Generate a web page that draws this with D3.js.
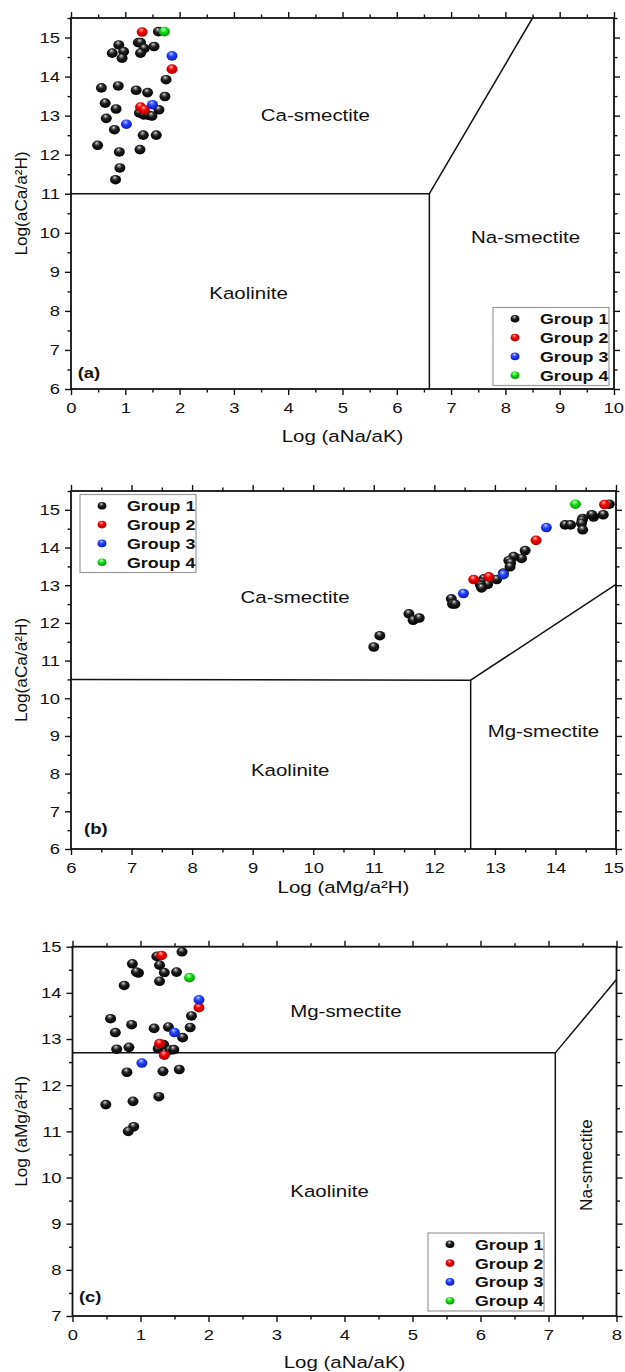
<!DOCTYPE html>
<html>
<head>
<meta charset="utf-8">
<script src="https://cdn.jsdelivr.net/npm/d3@7"></script>
<style>
  html, body { margin: 0; padding: 0; background: #fff; }
  svg { display: block; }
  text { font-family: "Liberation Sans", Arial, sans-serif; fill: #111; }
</style>
</head>
<body>
<svg id="chart" width="625" height="1372"></svg>
<script>
// ---- Sample data: one entry per water sample ----
const sampleGroup = [
  1,1,1,1,1,1,1,1,1,1,1,1,1,1,1,1,1,1,1,1,1,1,1,1,1,1,1,1,1,1,1,1,
  2,2,2,2,
  3,3,3,
  4
];
const logNaK = [
  1.61,0.88,1.24,1.28,1.53,1.35,0.76,0.97,0.94,1.28,1.75,0.56,0.87,1.20,1.41,1.73,
  0.63,0.83,1.62,1.26,1.34,1.43,1.49,0.65,0.80,1.33,1.57,0.49,0.89,1.27,0.90,0.82,
  1.31,1.86,1.28,1.35,
  1.86,1.50,1.02,
  1.72
];
const logCa = [
  15.15,14.81,14.87,14.87,14.77,14.72,14.60,14.64,14.47,14.60,13.92,13.71,13.76,13.65,13.59,13.49,
  13.32,13.17,13.15,13.07,13.02,13.01,12.99,12.93,12.64,12.50,12.50,12.24,12.07,12.13,11.66,11.36,
  15.14,14.19,13.22,13.15,
  14.53,13.28,12.78,
  15.15
];
const logMg = [
  14.89,14.63,14.79,14.60,14.45,14.44,14.16,14.43,14.45,14.25,13.50,13.44,13.31,13.23,13.26,13.25,
  13.14,12.82,13.03,12.79,12.88,12.76,12.77,12.78,12.28,12.30,12.34,11.58,11.65,11.75,11.10,11.00,
  14.81,13.68,12.90,12.65,
  13.85,13.14,12.48,
  14.33
];
const groupNames = ["Group 1", "Group 2", "Group 3", "Group 4"];

// ---- Tick values ----
const ticksNaK10 = [0,1,2,3,4,5,6,7,8,9,10];
const ticksNaK8  = [0,1,2,3,4,5,6,7,8];
const ticksMg    = [6,7,8,9,10,11,12,13,14,15];
const ticksCa    = [6,7,8,9,10,11,12,13,14,15];
const ticksMgY   = [7,8,9,10,11,12,13,14,15];

// ---- Stability field boundaries (data coordinates) ----
const boundsA = [
  [[0,11],[6.6,11],[6.6,6]],
  [[6.6,11],[8.5,15.5]]
];
const boundsB = [
  [[6,10.5],[12.6,10.48],[12.6,6]],
  [[12.6,10.48],[15,13.02]]
];
const boundsC = [
  [[0,12.7],[7.1,12.7],[7.1,7]],
  [[7.1,12.7],[8,14.29]]
];

// ---- Field names ----
const fieldsA = [
  {text:"Ca-smectite", x:4.5,  y:13.02, rot:false},
  {text:"Na-smectite", x:8.37, y:9.88,  rot:false},
  {text:"Kaolinite",   x:3.27, y:8.45,  rot:false}
];
const fieldsB = [
  {text:"Ca-smectite", x:9.70,  y:12.69, rot:false},
  {text:"Mg-smectite", x:13.80, y:9.13,  rot:false},
  {text:"Kaolinite",   x:9.62,  y:8.10,  rot:false}
];
const fieldsC = [
  {text:"Mg-smectite", x:4.02, y:13.61, rot:false},
  {text:"Kaolinite",   x:3.78, y:9.71,  rot:false},
  {text:"Na-smectite", x:7.55, y:10.27, rot:true}
];

// the figure's lettering is drawn slightly wide
const SX = 1.19;
const PAGE_W = 625;

const svg = d3.select("#chart");
svg.append("rect").attr("width",625).attr("height",1372).attr("fill","#fff");

// Glossy sphere fills
const defs = svg.append("defs");
const ballColours = [
  ["#ffffff","#8a8a8a","#1c1c1c","#000000"],
  ["#ffffff","#ff7070","#f00000","#a80000"],
  ["#ffffff","#8090ff","#2040ff","#0a1aa8"],
  ["#ffffff","#90ff90","#10e010","#089008"]
];
ballColours.forEach((c, i) => {
  const g = defs.append("radialGradient")
    .attr("id", "ball" + (i + 1))
    .attr("cx", "45%").attr("cy", "40%").attr("r", "62%")
    .attr("fx", "42%").attr("fy", "25%");
  g.append("stop").attr("offset", "0%").attr("stop-color", c[0]);
  g.append("stop").attr("offset", "14%").attr("stop-color", c[1]);
  g.append("stop").attr("offset", "45%").attr("stop-color", c[2]);
  g.append("stop").attr("offset", "100%").attr("stop-color", c[3]);
});

const samples = sampleGroup.map((g, i) => ({
  group: g, naK: logNaK[i], ca: logCa[i], mg: logMg[i]
})).sort((a, b) => a.group - b.group);

function halfSteps(ticks) {
  const out = [];
  for (let i = 0; i < ticks.length - 1; i++) out.push((ticks[i] + ticks[i + 1]) / 2);
  return out;
}

// widened text anchored at (x, y)
function wideText(parent, x, y, str, size, opts = {}) {
  const t = parent.append("g")
    .attr("transform", `translate(${x},${y}) scale(${opts.rot ? 1 : SX},1)` + (opts.rot ? " rotate(-90)" : ""))
    .append("text")
    .attr("text-anchor", opts.anchor || "middle")
    .attr("dominant-baseline", "central")
    .style("font-size", size + "px")
    .text(str);
  if (opts.bold) t.style("font-weight", "bold");
  return t;
}

function drawPanel(p) {
  const x = d3.scaleLinear().domain(p.xDomain).range([p.left, p.right]);
  const y = d3.scaleLinear().domain(p.yDomain).range([p.bottom, p.top]);
  const g = svg.append("g");

  const minorX = halfSteps(p.xTicks);
  const minorY = halfSteps(p.yTicks).concat(p.yExtraMinor || []);

  const styleAxis = sel => {
    sel.select(".domain").remove();
    sel.selectAll("line").attr("stroke", "#111").attr("stroke-width", 1.4);
    sel.selectAll("text").style("font-size", "15.5px").attr("fill", "#111")
      .attr("transform", `scale(${SX},1)`);
  };

  // bottom
  const bottomAxis = g.append("g").attr("transform", `translate(0,${p.bottom})`)
    .call(d3.axisBottom(x).tickValues(p.xTicks).tickSize(6).tickPadding(7).tickFormat(d3.format("d")))
    .call(styleAxis);
  // keep the last label inside the page
  bottomAxis.selectAll(".tick").each(function(d) {
    const txt = d3.select(this).select("text");
    const half = this.querySelector("text").getBBox().width * SX / 2;
    const overflow = x(d) + half - (PAGE_W - 1.5);
    if (overflow > 0) txt.attr("x", -overflow / SX);
  });
  g.append("g").attr("transform", `translate(0,${p.bottom})`)
    .call(d3.axisBottom(x).tickValues(minorX).tickSize(3.5).tickFormat(""))
    .call(styleAxis);
  // top
  g.append("g").attr("transform", `translate(0,${p.top})`)
    .call(d3.axisTop(x).tickValues(p.xTicks).tickSize(6).tickFormat(""))
    .call(styleAxis);
  g.append("g").attr("transform", `translate(0,${p.top})`)
    .call(d3.axisTop(x).tickValues(minorX).tickSize(3.5).tickFormat(""))
    .call(styleAxis);
  // left
  g.append("g").attr("transform", `translate(${p.left},0)`)
    .call(d3.axisLeft(y).tickValues(p.yTicks).tickSize(6).tickPadding(3.3).tickFormat(d3.format("d")))
    .call(styleAxis);
  g.append("g").attr("transform", `translate(${p.left},0)`)
    .call(d3.axisLeft(y).tickValues(minorY).tickSize(3.5).tickFormat(""))
    .call(styleAxis);
  // right
  g.append("g").attr("transform", `translate(${p.right},0)`)
    .call(d3.axisRight(y).tickValues(p.yTicks).tickSize(6).tickFormat(""))
    .call(styleAxis);
  g.append("g").attr("transform", `translate(${p.right},0)`)
    .call(d3.axisRight(y).tickValues(minorY).tickSize(3.5).tickFormat(""))
    .call(styleAxis);

  // frame
  g.append("rect")
    .attr("x", p.left).attr("y", p.top)
    .attr("width", p.right - p.left).attr("height", p.bottom - p.top)
    .attr("fill", "none").attr("stroke", "#111").attr("stroke-width", 1.8);

  // field boundaries
  const line = d3.line().x(d => x(d[0])).y(d => y(d[1]));
  p.bounds.forEach(b => {
    g.append("path").attr("d", line(b))
      .attr("fill", "none").attr("stroke", "#111").attr("stroke-width", 1.5);
  });

  // field names
  p.fields.forEach(f => wideText(g, x(f.x), y(f.y), f.text, 17.2, {rot: f.rot}));

  // panel tag
  wideText(g, x(p.tag.x), y(p.tag.y), p.tag.text, 15.5, {bold: true});

  // axis titles
  wideText(g, (p.left + p.right) / 2, p.bottom + p.xTitleGap, p.xTitle, 17.2);
  wideText(g, 21, (p.top + p.bottom) / 2, p.yTitle, 17.2, {rot: true});

  // samples
  g.append("g").selectAll("ellipse").data(samples).join("ellipse")
    .attr("cx", d => x(d[p.xKey])).attr("cy", d => y(d[p.yKey]))
    .attr("rx", 5.5).attr("ry", 4.8)
    .attr("fill", d => `url(#ball${d.group})`);

  // legend
  const lg = g.append("g").attr("transform", `translate(${p.legend.x},${p.legend.y})`);
  lg.append("rect").attr("width", 116).attr("height", 78)
    .attr("fill", "#fff").attr("stroke", "#9a9a9a").attr("stroke-width", 1.2);
  groupNames.forEach((name, i) => {
    const cy = 11.3 + i * 18.8;
    lg.append("ellipse").attr("cx", 22).attr("cy", cy).attr("rx", 4.4).attr("ry", 3.8)
      .attr("fill", `url(#ball${i + 1})`);
    wideText(lg, 47, cy, name, 15, {bold: true, anchor: "start"});
  });
}

drawPanel({
  left: 71, right: 614, top: 18, bottom: 389,
  xDomain: [0, 10], yDomain: [6, 15.5],
  xTicks: ticksNaK10, yTicks: ticksCa, yExtraMinor: [15.5],
  xKey: "naK", yKey: "ca",
  bounds: boundsA, fields: fieldsA,
  tag: {text: "(a)", x: 0.33, y: 6.42},
  xTitle: "Log (aNa/aK)", xTitleGap: 47, yTitle: "Log(aCa/a\u00B2H)",
  legend: {x: 493, y: 307.5}
});

drawPanel({
  left: 71, right: 616, top: 491, bottom: 849,
  xDomain: [6, 15], yDomain: [6, 15.5],
  xTicks: ticksMg, yTicks: ticksCa, yExtraMinor: [15.5],
  xKey: "mg", yKey: "ca",
  bounds: boundsB, fields: fieldsB,
  tag: {text: "(b)", x: 6.41, y: 6.52},
  xTitle: "Log (aMg/a\u00B2H)", xTitleGap: 38, yTitle: "Log(aCa/a\u00B2H)",
  legend: {x: 80, y: 494.5}
});

drawPanel({
  left: 72.5, right: 616.5, top: 946.7, bottom: 1316,
  xDomain: [0, 8], yDomain: [7, 15],
  xTicks: ticksNaK8, yTicks: ticksMgY,
  xKey: "naK", yKey: "mg",
  bounds: boundsC, fields: fieldsC,
  tag: {text: "(c)", x: 0.26, y: 7.41},
  xTitle: "Log (aNa/aK)", xTitleGap: 46, yTitle: "Log (aMg/a\u00B2H)",
  legend: {x: 428, y: 1233}
});
</script>
</body>
</html>
